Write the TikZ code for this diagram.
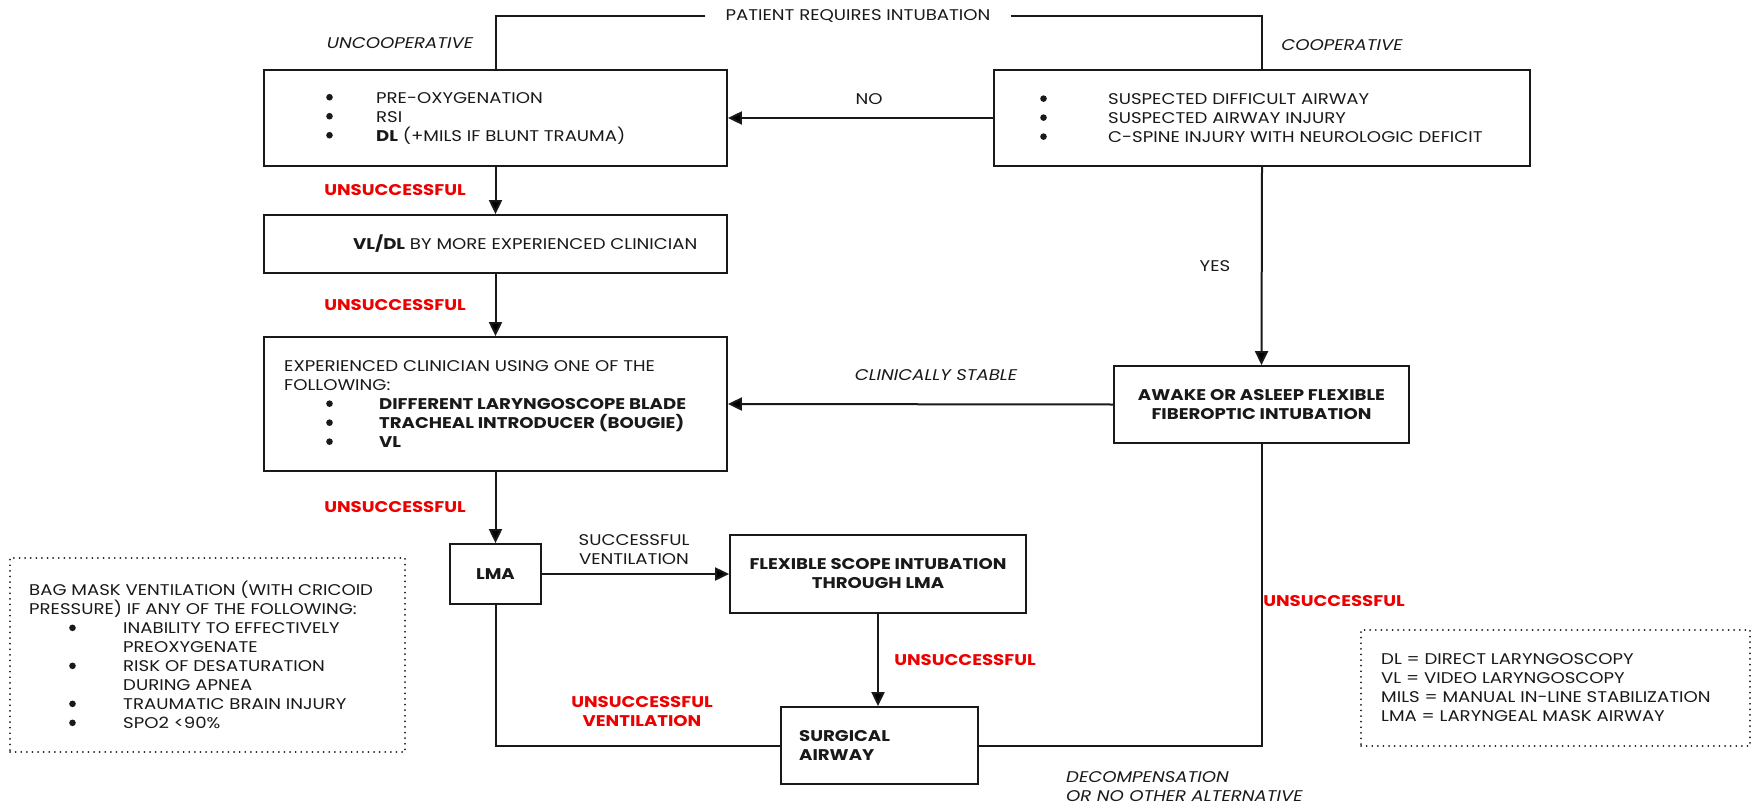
\documentclass[tikz,border=0pt]{standalone}
\usepackage{fontspec}
\setmainfont{Poppins}[FakeStretch=1.17]
\usetikzlibrary{arrows.meta}
\definecolor{txtc}{RGB}{25,25,25}
\definecolor{redc}{RGB}{238,0,0}
\newcommand{\mybul}[1][50pt]{\makebox[#1][l]{\raisebox{2.5pt}{\tikz\fill[txtc] (0pt,0pt) circle[radius=3.3pt];}}}
\begin{document}
\begin{tikzpicture}[x=1pt,y=-1pt,
  every node/.style={font=\fontsize{15.5}{19}\selectfont, text=txtc, inner sep=0pt},
  box/.style={draw=txtc, line width=1.8pt, fill=white},
  dbox/.style={draw=txtc, line width=1.8pt, dash pattern=on 0.1pt off 5.5pt, line cap=round},
  conn/.style={draw=txtc, line width=2pt},
  arr/.style={conn, -{Triangle[length=14pt,width=13pt]}},
  redlbl/.style={text=redc, font=\fontsize{15.5}{19}\selectfont\bfseries, align=center},
  itlbl/.style={font=\fontsize{15.5}{19}\selectfont\itshape},
  bold/.style={font=\fontsize{15.5}{19}\selectfont\bfseries}]
\fill[white] (0,0) rectangle (1759,808);
\useasboundingbox (0,0) rectangle (1759,808);

% boxes
\node[box, minimum width=463pt, minimum height=96pt] (A) at (495.5,118) {};
\node[anchor=west, align=left] (At) at (326,118) {\mybul PRE-OXYGENATION\\ \mybul RSI\\ \mybul\textbf{DL} (+MILS IF BLUNT TRAUMA)};

\node[box, minimum width=536pt, minimum height=96pt] (B) at (1262,118) {};
\node[anchor=west, align=left] (Bt) at (1040,118) {\mybul[68pt]SUSPECTED DIFFICULT AIRWAY\\ \mybul[68pt]SUSPECTED AIRWAY INJURY\\ \mybul[68pt]C-SPINE INJURY WITH NEUROLOGIC DEFICIT};

\node[box, minimum width=463pt, minimum height=58pt] (C) at (495.5,244) {};
\node[anchor=west] (Ct) at (353,244) {\textbf{VL/DL} BY MORE EXPERIENCED CLINICIAN};

\node[box, minimum width=463pt, minimum height=134pt] (D) at (495.5,404) {};
\node[anchor=west, align=left] (Dt) at (284,404) {EXPERIENCED CLINICIAN USING ONE OF THE\\ FOLLOWING:\\
 \hspace*{42pt}\mybul[53pt]\textbf{DIFFERENT LARYNGOSCOPE BLADE}\\
 \hspace*{42pt}\mybul[53pt]\textbf{TRACHEAL INTRODUCER (BOUGIE)}\\
 \hspace*{42pt}\mybul[53pt]\textbf{VL}};

\node[box, bold, align=center, minimum width=295pt, minimum height=77pt] (E) at (1261.5,404.5) {AWAKE OR ASLEEP FLEXIBLE\\ FIBEROPTIC INTUBATION};

\node[box, bold, minimum width=91pt, minimum height=60pt] (L) at (495.5,574) {LMA};

\node[box, bold, align=center, minimum width=296pt, minimum height=78pt] (F) at (878,574) {FLEXIBLE SCOPE INTUBATION\\ THROUGH LMA};

\node[box, minimum width=197pt, minimum height=77pt] (G) at (879.5,745.5) {};
\node[anchor=west, align=left, bold] (Gt) at (799,745.5) {SURGICAL\\ AIRWAY};

% dotted boxes
\node[dbox, minimum width=395pt, minimum height=194pt] (N1) at (207.5,655) {};
\node[anchor=west, align=left] (N1t) at (29,655) {BAG MASK VENTILATION (WITH CRICOID\\ PRESSURE) IF ANY OF THE FOLLOWING:\\
 \hspace*{40pt}\mybul[54pt]INABILITY TO EFFECTIVELY\\
 \hspace*{94pt}PREOXYGENATE\\
 \hspace*{40pt}\mybul[54pt]RISK OF DESATURATION\\
 \hspace*{94pt}DURING APNEA\\
 \hspace*{40pt}\mybul[54pt]TRAUMATIC BRAIN INJURY\\
 \hspace*{40pt}\mybul[54pt]SPO2 <90\%};

\node[dbox, minimum width=389pt, minimum height=116pt] (N2) at (1555.5,688) {};
\node[anchor=west, align=left] (N2t) at (1381,688) {DL = DIRECT LARYNGOSCOPY\\ VL = VIDEO LARYNGOSCOPY\\ MILS = MANUAL IN-LINE STABILIZATION\\ LMA = LARYNGEAL MASK AIRWAY};

% top
\node[fill=white, inner xsep=20pt, inner ysep=4pt] (top) at (858,16) {PATIENT REQUIRES INTUBATION};
\draw[conn] (top.west) -| (A.north);
\draw[conn] (top.east) -| (B.north);

% connectors
\draw[arr] (A.south) -- (C.north);
\draw[arr] (C.south) -- (D.north);
\draw[arr] (D.south) -- (L.north);
\draw[arr] (B.west) -- (A.east);
\draw[arr] (B.south) -- (E.north);
\draw[arr] (E.west) -- (D.east);
\draw[arr] (L.east) -- (F.west);
\draw[arr] (F.south) -- (F.south |- G.north);
\draw[conn] (L.south) |- (G.west);
\draw[conn] (E.south) |- (G.east);

% labels
\node[itlbl] (l1) at (400,43) {UNCOOPERATIVE};
\node[itlbl] (l2) at (1342,45) {COOPERATIVE};
\node (l3) at (869,99) {NO};
\node[redlbl] (l4) at (395,190) {UNSUCCESSFUL};
\node[redlbl] (l5) at (395,305) {UNSUCCESSFUL};
\node[redlbl] (l6) at (395,507) {UNSUCCESSFUL};
\node (l7) at (1215,266) {YES};
\node[itlbl] (l8) at (936,375) {CLINICALLY STABLE};
\node[align=center] (l9) at (634,550) {SUCCESSFUL\\ VENTILATION};
\node[redlbl] (l10) at (965,660) {UNSUCCESSFUL};
\node[redlbl] (l11) at (642,712) {UNSUCCESSFUL\\ VENTILATION};
\node[redlbl] (l12) at (1334,601) {UNSUCCESSFUL};
\node[itlbl, anchor=west, align=left] (l13) at (1066,787) {DECOMPENSATION\\ OR NO OTHER ALTERNATIVE};
\end{tikzpicture}
\end{document}
